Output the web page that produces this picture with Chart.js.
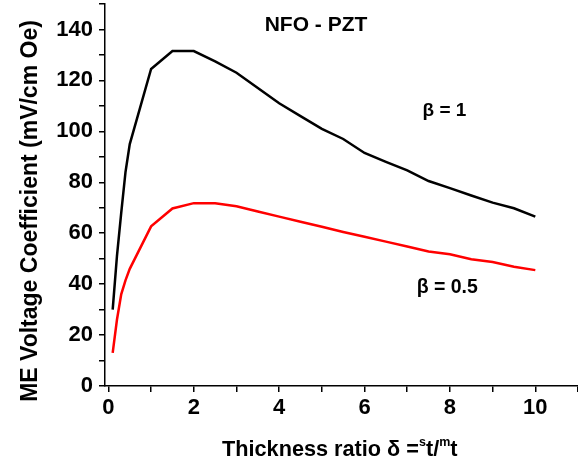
<!DOCTYPE html>
<html>
<head>
<meta charset="utf-8">
<script src="https://cdn.jsdelivr.net/npm/chart.js@4"></script>
<style>
  html, body { margin: 0; padding: 0; background: #fff; }
</style>
</head>
<body>
<canvas id="myChart" width="578" height="468"></canvas>
<script>
// thickness ratio delta (x) and ME voltage coefficient (y)
const thickness = [0.1, 0.2, 0.3, 0.4, 0.5, 1, 1.5, 2, 2.5, 3, 3.5, 4, 4.5, 5, 5.5, 6, 6.5, 7, 7.5, 8, 8.5, 9, 9.5, 10];
const beta_1 = [30, 51, 68, 84, 95, 124.5, 131.5, 131.5, 127.5, 123, 117, 111, 106, 101, 97, 91.5, 88, 84.7, 80.5, 77.7, 74.8, 72, 69.8, 66.5];
const beta_05 = [13, 26, 36, 41.5, 46, 62.7, 69.7, 71.8, 71.8, 70.6, 68.5, 66.5, 64.5, 62.5, 60.5, 58.6, 56.7, 54.8, 52.8, 51.7, 49.8, 48.7, 46.8, 45.5];

const x_ticks = [0, 1, 2, 3, 4, 5, 6, 7, 8, 9, 10, 11];
const y_ticks = [0, 10, 20, 30, 40, 50, 60, 70, 80, 90, 100, 110, 120, 130, 140, 150];

const chart_title = "NFO - PZT";
const label_1 = "β = 1";
const label_05 = "β = 0.5";
const y_title = "ME Voltage Coefficient (mV/cm Oe)";

const FONT = "'Liberation Sans', Arial, sans-serif";

function pts(xs, ys) {
  return xs.map((x, i) => ({ x: x, y: ys[i] }));
}

// texts that chart.js can't place the way the figure has them
const textPlugin = {
  id: "texts",
  afterDraw(chart) {
    const ctx = chart.ctx;
    const xs = chart.scales.x;
    const ys = chart.scales.y;
    ctx.save();
    ctx.fillStyle = "#000";
    ctx.textBaseline = "alphabetic";
    ctx.textAlign = "left";

    ctx.font = "bold 21px " + FONT;
    ctx.fillText(chart_title, xs.getPixelForValue(3.66), ys.getPixelForValue(139.5));

    ctx.font = "bold 19px " + FONT;
    ctx.fillText(label_1, xs.getPixelForValue(7.36), ys.getPixelForValue(106));
    ctx.font = "bold 19.5px " + FONT;
    ctx.fillText(label_05, xs.getPixelForValue(7.22), ys.getPixelForValue(36.4));

    // y axis title
    ctx.save();
    ctx.translate(36.5, 211);
    ctx.rotate(-Math.PI / 2);
    ctx.textAlign = "center";
    ctx.font = "bold 23px " + FONT;
    ctx.fillText(y_title, 0, 0);
    ctx.restore();

    // x axis title with superscripts
    const big = "bold 21.7px " + FONT;
    const small = "bold 12.5px " + FONT;
    const parts = [
      ["Thickness ratio \u03b4 =", big, 0],
      ["s", small, -10],
      ["t/", big, 0],
      ["m", small, -10],
      ["t", big, 0]
    ];
    let x = 222;
    const base = 456;
    parts.forEach(p => {
      ctx.font = p[1];
      ctx.fillText(p[0], x, base + p[2]);
      x += ctx.measureText(p[0]).width;
    });
    ctx.restore();
  }
};

const ctx = document.getElementById("myChart");
const myChart = new Chart(ctx, {
  type: "line",
  data: {
    datasets: [
      {
        label: label_1,
        data: pts(thickness, beta_1),
        borderColor: "#000",
        borderWidth: 2.5,
        pointRadius: 0,
        tension: 0,
        fill: false
      },
      {
        label: label_05,
        data: pts(thickness, beta_05),
        borderColor: "#ff0000",
        borderWidth: 2.5,
        pointRadius: 0,
        tension: 0,
        fill: false
      }
    ]
  },
  options: {
    responsive: false,
    animation: false,
    layout: { padding: { top: 4, right: 0, left: 0, bottom: 0 } },
    plugins: {
      legend: { display: false },
      tooltip: { enabled: false },
      title: { display: false }
    },
    scales: {
      x: {
        type: "linear",
        min: -0.08,
        max: 11,
        afterBuildTicks: s => { s.ticks = x_ticks.map(v => ({ value: v })); },
        afterFit: s => { s.height = 82; s.paddingLeft = 0; s.paddingRight = 0; },
        ticks: {
          autoSkip: false,
          maxRotation: 0,
          padding: 3,
          color: "#000",
          font: { family: FONT, size: 22, weight: "bold" },
          callback: v => (v % 2 === 0 && v <= 10 ? v : "")
        },
        grid: { drawOnChartArea: false, drawTicks: true, tickLength: 6, color: "#000", lineWidth: 1.5 },
        border: { display: true, color: "#000", width: 1.5 }
      },
      y: {
        min: 0,
        max: 150,
        afterBuildTicks: s => { s.ticks = y_ticks.map(v => ({ value: v })); },
        afterFit: s => { s.width = 105; s.paddingTop = 0; s.paddingBottom = 0; },
        ticks: {
          autoSkip: false,
          padding: 6,
          color: "#000",
          font: { family: FONT, size: 22, weight: "bold" },
          callback: v => (v % 20 === 0 && v <= 140 ? v : "")
        },
        grid: { drawOnChartArea: false, drawTicks: true, tickLength: 6, color: "#000", lineWidth: 1.5 },
        border: { display: true, color: "#000", width: 1.5 }
      }
    }
  },
  plugins: [textPlugin]
});
</script>
</body>
</html>
